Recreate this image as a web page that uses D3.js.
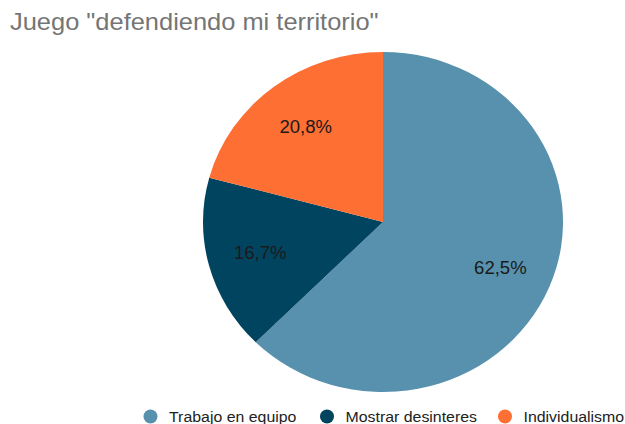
<!DOCTYPE html>
<html><head><meta charset="utf-8">
<script src="https://cdn.jsdelivr.net/npm/d3@7"></script>
<style>body{margin:0;background:#fff;} svg{display:block;font-family:"Liberation Sans",Arial,sans-serif;}</style>
</head><body>
<svg id="c" width="625" height="424"></svg>
<script>
const title = 'Juego "defendiendo mi territorio"';
const categories = ["Trabajo en equipo", "Mostrar desinteres", "Individualismo"];
const values = [62.5, 16.7, 20.8];
const labels = ["62,5%", "16,7%", "20,8%"];
const colors = ["#5891ad", "#01445f", "#fd6f33"];

const S = 1.06; // horizontal stretch of the reference image
const svg = d3.select("#c");
svg.append("rect").attr("width",625).attr("height",424).attr("fill","#fff");
svg.append("text").attr("transform",`translate(10,30) scale(${S},1)`)
  .attr("font-size",24).attr("fill","#757575").text(title);

const cx = 383, cy = 222, ry = 170, sx = 180/170;
const pie = d3.pie().sort(null).value(d=>d)(values);
const arc = d3.arc().innerRadius(0).outerRadius(ry);
const labArc = d3.arc().innerRadius(120).outerRadius(120);
const g = svg.append("g").attr("transform",`translate(${cx},${cy})`);
g.append("g").attr("transform",`scale(${sx},1)`)
  .selectAll("path").data(pie).join("path")
  .attr("d",arc).attr("fill",(d,i)=>colors[i]);
g.selectAll("text").data(pie).join("text")
  .attr("transform",d=>`translate(${labArc.centroid(d)[0]*sx},${labArc.centroid(d)[1]}) scale(${S},1)`)
  .attr("dy","0.35em").attr("text-anchor","middle")
  .attr("font-size",17.5).attr("fill","#1a1a1a")
  .text((d,i)=>labels[i]);

const legX = [150.5, 327, 505];
const lg = svg.append("g");
categories.forEach((c,i)=>{
  lg.append("circle").attr("cx",legX[i]).attr("cy",416.5).attr("r",7).attr("fill",colors[i]);
  lg.append("text").attr("transform",`translate(${legX[i]+18.5},421.5) scale(${S},1)`)
    .attr("font-size",15).attr("fill","#222").text(c);
});
</script>
</body></html>
